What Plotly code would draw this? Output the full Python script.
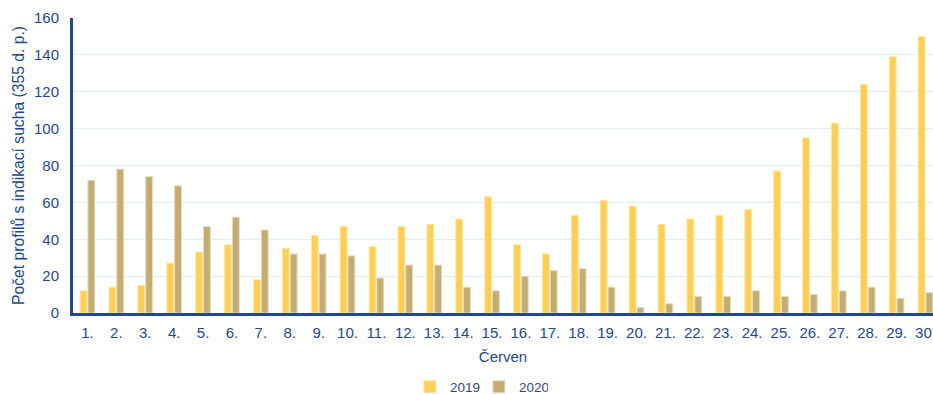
import plotly.graph_objects as go

# Days of June (tick labels) and the number of profiles showing drought
days = [f"{d}." for d in range(1, 31)]
values_2019 = [12, 14, 15, 27, 33, 37, 18, 35, 42, 47, 36, 47, 48, 51, 63,
               37, 32, 53, 61, 58, 48, 51, 53, 56, 77, 95, 103, 124, 139, 150]
values_2020 = [72, 78, 74, 69, 47, 52, 45, 32, 32, 31, 19, 26, 26, 14, 12,
               20, 23, 24, 14, 3, 5, 9, 9, 12, 9, 10, 12, 14, 8, 11]
y_ticks = [0, 20, 40, 60, 80, 100, 120, 140, 160]

BLUE = "#24488c"
FONT = "Liberation Sans, Arial, sans-serif"

fig = go.Figure()
fig.add_trace(go.Bar(
    name="2019", x=days, y=values_2019,
    marker=dict(color="#ffcf55", line=dict(color="#fde7a6", width=1)),
))
fig.add_trace(go.Bar(
    name="2020", x=days, y=values_2020,
    marker=dict(color="#c4ad72", line=dict(color="#e6dcbc", width=1)),
))

fig.update_layout(
    width=933, height=394,
    margin=dict(l=73, r=0, t=18, b=81, autoexpand=False),
    plot_bgcolor="white", paper_bgcolor="white",
    barmode="group", bargap=0.46, bargroupgap=0.12,
    font=dict(family=FONT, color=BLUE, size=15),
    showlegend=True,
    legend=dict(
        orientation="h", x=0.472, xanchor="center", xref="paper",
        y=-0.251, yanchor="middle",
        font=dict(size=13.5, color="#34477a"),
        itemwidth=30, entrywidth=24, traceorder="normal",
    ),
)

fig.update_xaxes(
    type="category", range=[-0.5, 29.26], automargin=False,
    showline=True, linecolor=BLUE, linewidth=3,
    showgrid=False, ticks="", ticklabelstandoff=4,
    tickfont=dict(size=15, color=BLUE),
    title=dict(text="Červen", font=dict(size=15, color=BLUE), standoff=12),
)
fig.update_yaxes(
    range=[0, 160], tickvals=y_ticks, automargin=False,
    showline=True, linecolor=BLUE, linewidth=3,
    showgrid=True, gridcolor="#ddeef4", gridwidth=1,
    zeroline=False, ticks="", ticklabelstandoff=8,
    tickfont=dict(size=15, color=BLUE),
    title=dict(text="Počet profilů s indikací sucha (355 d. p.)",
               font=dict(size=15.7, color=BLUE), standoff=6),
)

fig.write_html("out.html")
